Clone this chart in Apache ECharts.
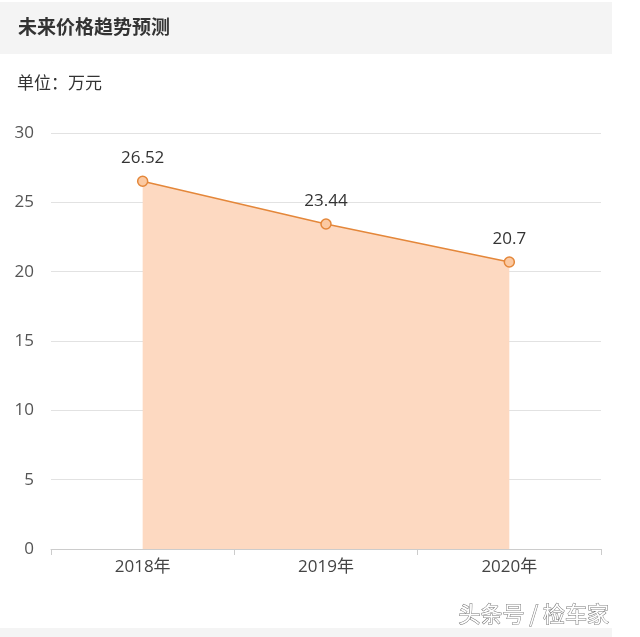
<!DOCTYPE html>
<html>
<head>
<meta charset="utf-8">
<script src="https://cdn.jsdelivr.net/npm/echarts@6/dist/echarts.min.js"></script>
<style>
  html, body { margin: 0; padding: 0; background: #fff; }
  #main { width: 640px; height: 637px; }
</style>
</head>
<body>
<div id="main"></div>
<script>
var years = ['2018年', '2019年', '2020年'];
var prices = [26.52, 23.44, 20.7];
var yTicks = [0, 5, 10, 15, 20, 25, 30];

var myChart = echarts.init(document.getElementById('main'));

var option = {
    animation: false,
    backgroundColor: '#fff',
    textStyle: { fontFamily: '"Open Sans", "Noto Sans CJK SC", sans-serif' },
    grid: { left: 51, right: 39, top: 133, bottom: 88 },
    graphic: [
        { type: 'rect', shape: { x: 0, y: 2, width: 612, height: 52 }, style: { fill: '#f4f4f4' }, z: -1 },
        { type: 'rect', shape: { x: 0, y: 628, width: 612, height: 9 }, style: { fill: '#f4f4f4' }, z: -1 },
        { type: 'text', left: 18, top: 17, style: { text: '未来价格趋势预测', font: 'bold 19px "Noto Sans CJK SC"', fill: '#333' } },
        { type: 'text', left: 17, top: 74, style: { text: '单位：万元', font: '17px "Noto Sans CJK SC"', fill: '#333' } },
        { type: 'text', left: 458, top: 602, style: { text: '头条号 / 检车家', font: '22px "Noto Sans CJK SC"', fill: '#fff', stroke: '#777', lineWidth: 1 }, z: 10 }
    ],
    xAxis: {
        type: 'category',
        data: years,
        boundaryGap: true,
        axisLine: { lineStyle: { color: '#ccc' } },
        axisTick: { show: true, length: 6, lineStyle: { color: '#ccc' } },
        axisLabel: { color: '#444', fontSize: 17, margin: 10 }
    },
    yAxis: {
        type: 'value',
        min: yTicks[0],
        max: yTicks[yTicks.length - 1],
        interval: 5,
        axisLine: { show: false },
        axisTick: { show: false },
        axisLabel: { color: '#555', fontSize: 17, margin: 17 },
        splitLine: { lineStyle: { color: '#e2e2e2' } }
    },
    series: [
        {
            type: 'line',
            data: prices,
            symbol: 'circle',
            symbolSize: 10,
            lineStyle: { color: '#e4873a', width: 1.5 },
            itemStyle: { color: '#fbc9a2', borderColor: '#e4873a', borderWidth: 1.5 },
            areaStyle: { color: '#fdd9c1', opacity: 1 },
            label: { show: true, position: 'top', distance: 9, color: '#333', fontSize: 17 }
        }
    ]
};
myChart.setOption(option);
</script>
</body>
</html>
